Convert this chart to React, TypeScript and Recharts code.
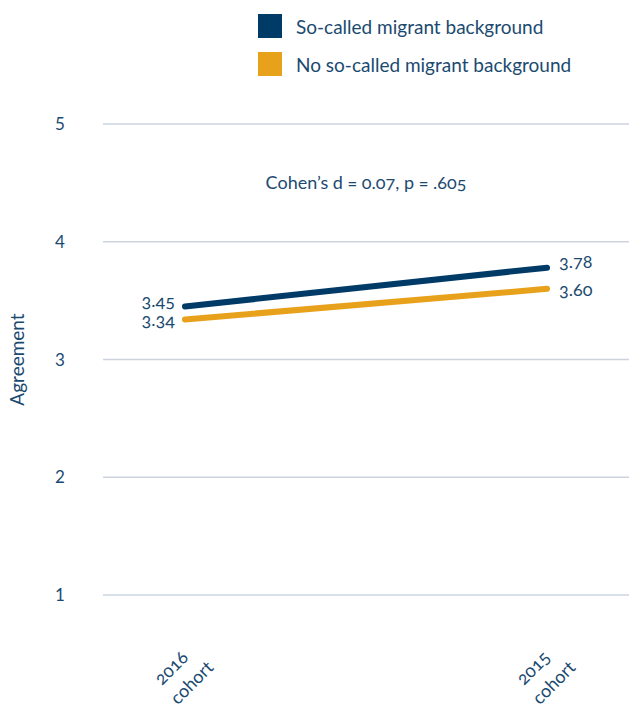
import { CartesianGrid, LabelList, Line, LineChart, ReferenceLine, XAxis, YAxis } from "recharts";

// values
const cohorts = ["2016 cohort", "2015 cohort"];
const migrant = [3.45, 3.78];
const noMigrant = [3.34, 3.6];
const yTicks = [1, 2, 3, 4, 5];
const seriesNames = ["So-called migrant background", "No so-called migrant background"];
const note = "Cohen\u2019s d = 0.07, p = .605";
const noteLevel = 4.5;

const NAVY = "#003b68";
const ORANGE = "#e8a11b";
const TEXT = "#1b4a70";
const FONT = "Lato, 'Open Sans', sans-serif";

const data = cohorts.map((c, i) => ({ cohort: c, migrant: migrant[i], noMigrant: noMigrant[i] }));

function XTick(props: any) {
    const { x, y, payload } = props;
    const [first, second] = String(payload.value).split(" ");
    return (
        <g transform={`translate(${x - 3}, ${y + 70}) rotate(-45)`}>
            <text textAnchor="middle" fill={TEXT} fontSize={18} fontFamily={FONT} style={{ fontVariantNumeric: "oldstyle-nums" }}>
                <tspan x={-4} dy={-5}>{first}</tspan>
                <tspan x={0} dy={25}>{second}</tspan>
            </text>
        </g>
    );
}

function YTick(props: any) {
    const { y, payload } = props;
    return (
        <text x={60} y={y} dy={6} textAnchor="middle" fill={TEXT} fontSize={17} fontFamily={FONT}>
            {payload.value}
        </text>
    );
}

function valueLabel(shift: number) {
    return (props: any) => {
        const { x, y, value, index } = props;
        const first = index === 0;
        return (
            <text
                x={first ? x - 10 : x + 12}
                y={y + shift}
                dy={5}
                textAnchor={first ? "end" : "start"}
                fill={TEXT}
                fontSize={18}
                fontFamily={FONT}
                style={{ fontVariantNumeric: "oldstyle-nums" }}
            >
                {Number(value).toFixed(2)}
            </text>
        );
    };
}

function AxisTitle(props: any) {
    const { viewBox } = props;
    const cy = viewBox.y + viewBox.height / 2;
    return (
        <text x={24} y={cy} transform={`rotate(-90, 24, ${cy})`} textAnchor="middle" fill={TEXT} fontSize={19} fontFamily={FONT}>
            Agreement
        </text>
    );
}

export default function App() {
    const colors = [NAVY, ORANGE];
    return (
        <div style={{ position: "absolute", left: 0, top: 0, width: 629, height: 709, background: "#fff" }}>
            <div style={{ position: "absolute", left: 258, top: 14, fontFamily: FONT, fontSize: 19, color: TEXT }}>
                {seriesNames.map((name, i) => (
                    <div key={name} style={{ display: "flex", alignItems: "center", height: 24, marginBottom: 14 }}>
                        <span style={{ width: 24, height: 24, background: colors[i], display: "inline-block", marginRight: 14 }} />
                        <span>{name}</span>
                    </div>
                ))}
            </div>
            <LineChart width={629} height={709} data={data} margin={{ top: 124, right: 0, bottom: 84, left: 0 }}>
                <CartesianGrid vertical={false} stroke="#cdd4de" strokeWidth={1.5} />
                <XAxis
                    dataKey="cohort"
                    axisLine={false}
                    tickLine={false}
                    height={30}
                    padding={{ left: 82, right: 82 }}
                    tick={<XTick />}
                    interval={0}
                />
                <YAxis
                    domain={[1, 5]}
                    ticks={yTicks}
                    width={103}
                    axisLine={false}
                    tickLine={false}
                    tick={<YTick />}
                    label={{ content: <AxisTitle /> }}
                />
                <ReferenceLine
                    y={noteLevel}
                    stroke="none"
                    label={{ value: note, position: "center", fill: TEXT, fontSize: 18, fontFamily: FONT, style: { fontVariantNumeric: "oldstyle-nums" } }}
                />
                <Line
                    dataKey="migrant"
                    stroke={NAVY}
                    strokeWidth={6}
                    strokeLinecap="round"
                    dot={false}
                    activeDot={false}
                    isAnimationActive={false}
                >
                    <LabelList dataKey="migrant" content={valueLabel(-5)} />
                </Line>
                <Line
                    dataKey="noMigrant"
                    stroke={ORANGE}
                    strokeWidth={6}
                    strokeLinecap="round"
                    dot={false}
                    activeDot={false}
                    isAnimationActive={false}
                >
                    <LabelList dataKey="noMigrant" content={valueLabel(2)} />
                </Line>
            </LineChart>
        </div>
    );
}
